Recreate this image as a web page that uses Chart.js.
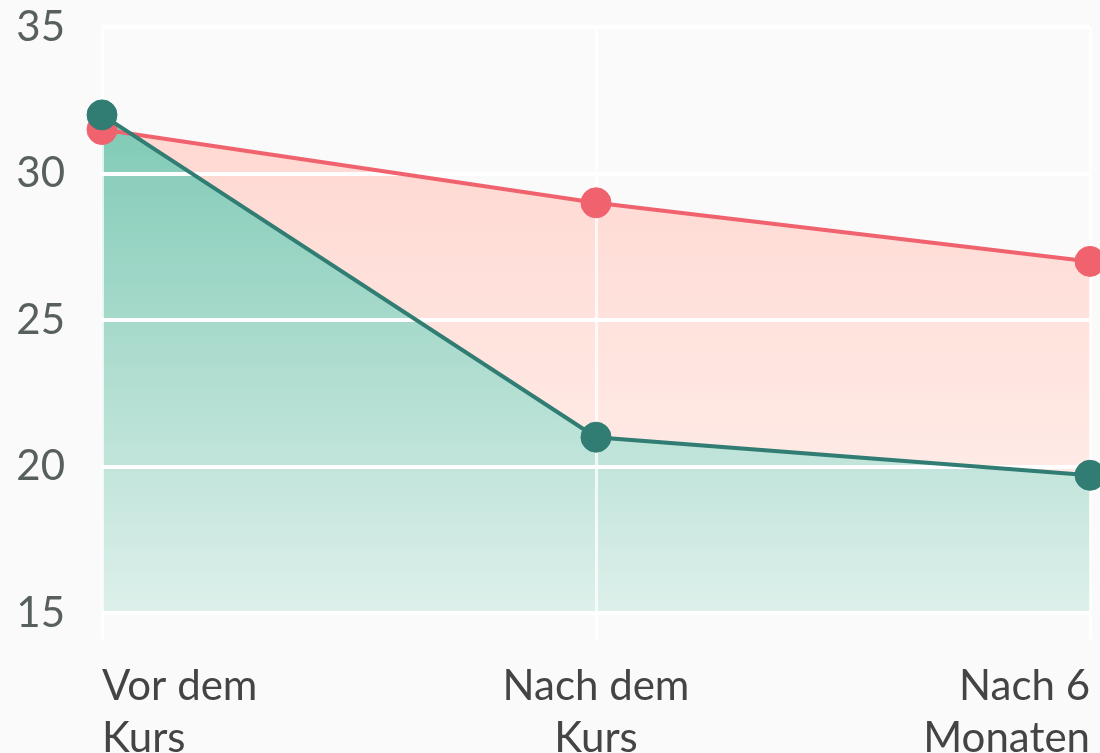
<!DOCTYPE html>
<html>
<head>
    <title>Vor und nach dem Kurs</title>
    <script src="https://cdn.jsdelivr.net/npm/chart.js"></script>
    <style>
        body {
            margin: 0;
            padding: 0;
            background-color: #fafafa;
        }
        .wrap {
            width: 1100px;
            height: 753px;
        }
    </style>
</head>
<body>
    <div class="wrap">
        <canvas id="lineChart"></canvas>
    </div>

    <script>
        // categories and values
        const categories = [["Vor dem", "Kurs"], ["Nach dem", "Kurs"], ["Nach 6", "Monaten"]];
        const redValues = [31.5, 29, 27];
        const greenValues = [32, 21, 19.7];
        const yMin = 15;
        const yMax = 35;
        const yStep = 5;

        function gradient(chart, top, bottom) {
            const area = chart.chartArea;
            if (!area) return top;
            const g = chart.ctx.createLinearGradient(0, area.top, 0, area.bottom);
            g.addColorStop(0, top);
            g.addColorStop(1, bottom);
            return g;
        }

        const ctx = document.getElementById("lineChart").getContext("2d");
        new Chart(ctx, {
            type: "line",
            data: {
                labels: categories,
                datasets: [
                    {
                        // red area fills down to the green line (dataset 1)
                        label: "Rot",
                        data: redValues,
                        order: 1,
                        borderColor: "#f0636e",
                        borderWidth: 4,
                        pointBackgroundColor: "#f0636e",
                        pointBorderColor: "#f0636e",
                        pointRadius: 15,
                        pointBorderWidth: 1,
                        fill: 1,
                        backgroundColor: (c) => gradient(c.chart, "rgb(255,210,203)", "rgb(255,242,238)"),
                        tension: 0,
                        clip: false
                    },
                    {
                        label: "Grün",
                        data: greenValues,
                        order: 0,
                        borderColor: "#317d73",
                        borderWidth: 4,
                        pointBackgroundColor: "#317d73",
                        pointBorderColor: "#317d73",
                        pointRadius: 15,
                        pointBorderWidth: 1,
                        fill: "start",
                        backgroundColor: (c) => gradient(c.chart, "rgb(110,195,171)", "rgb(222,240,235)"),
                        tension: 0,
                        clip: false
                    }
                ]
            },
            options: {
                responsive: true,
                maintainAspectRatio: false,
                animation: false,
                layout: {
                    autoPadding: false,
                    padding: 0
                },
                plugins: {
                    legend: { display: false },
                    tooltip: { enabled: false },
                    filler: { drawTime: "beforeDraw" }
                },
                scales: {
                    x: {
                        border: { display: false },
                        grid: {
                            color: "rgba(255,255,255,0.75)",
                            lineWidth: 3,
                            tickLength: 26,
                            tickColor: "#ffffff"
                        },
                        ticks: {
                            align: "inner",
                            color: "#444",
                            padding: 21,
                            maxRotation: 0,
                            font: { family: "Lato", size: 42, lineHeight: 1.24 }
                        },
                        afterFit: (s) => {
                            s.height = 140;
                            s.paddingLeft = 0;
                            s.paddingRight = 10;
                        }
                    },
                    y: {
                        min: yMin,
                        max: yMax,
                        border: { display: false },
                        grid: {
                            color: "#ffffff",
                            lineWidth: 4,
                            drawTicks: false
                        },
                        ticks: {
                            stepSize: yStep,
                            color: "#58605f",
                            padding: 37,
                            font: { family: "Lato", size: 42 }
                        },
                        afterFit: (s) => {
                            s.width = 102;
                            s.paddingTop = 27;
                            s.paddingBottom = 0;
                        }
                    }
                }
            }
        });
    </script>
</body>
</html>
